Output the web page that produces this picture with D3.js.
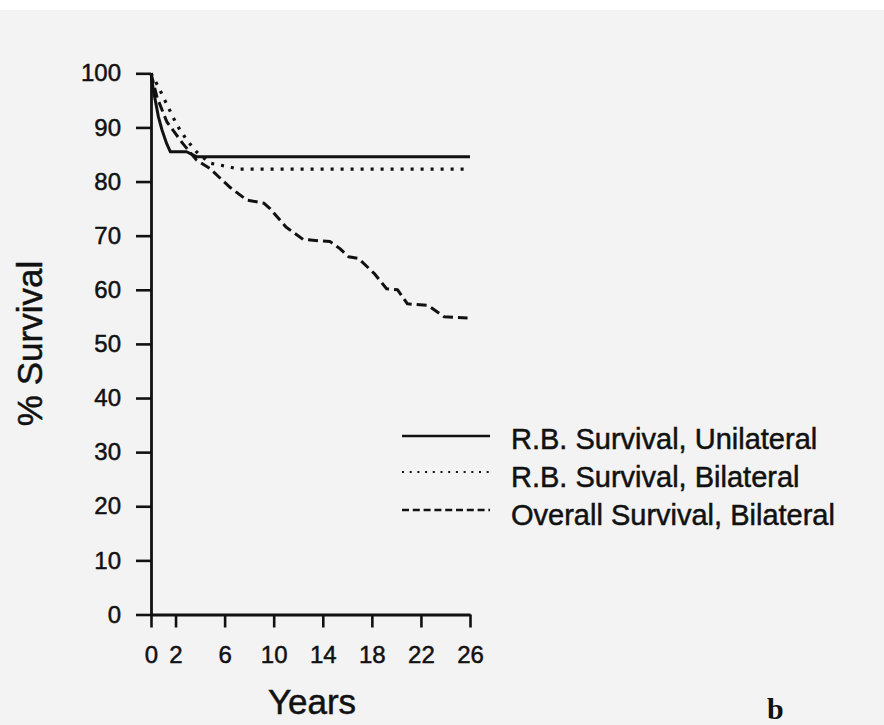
<!DOCTYPE html>
<html>
<head>
<meta charset="utf-8">
<script src="https://cdn.jsdelivr.net/npm/d3@7"></script>
<style>
  html, body { margin: 0; padding: 0; background: #ffffff; }
  svg { display: block; }
</style>
</head>
<body>
<svg id="chart" width="884" height="725"></svg>
<script>
// ---- data ----
const xTicks = [0, 2, 6, 10, 14, 18, 22, 26];
const yTicks = [0, 10, 20, 30, 40, 50, 60, 70, 80, 90, 100];

const uniYears = [0, 0.2, 0.6, 0.9, 1.28, 1.58, 2.9, 3.7, 26];
const uniSurv  = [100, 96.8, 92, 89.5, 87, 85.5, 85.5, 84.6, 84.6];

const biYears = [0, 0.6, 1.28, 2.1, 2.9, 3.7, 4.8, 6.4, 7.1, 26];
const biSurv  = [100, 97.5, 94.3, 90.5, 87.7, 85.5, 83.4, 82.7, 82.3, 82.3];

const allYears = [0, 0.5, 1.3, 2.6, 3.7, 4.8, 6.4, 7.8, 9.2, 9.7, 11.0, 12.4, 14.6, 15.4, 16.1, 16.9, 18.2, 19.2, 20.1, 20.9, 22.6, 23.9, 25.8];
const allSurv  = [100, 95.5, 91, 87, 84, 82.4, 79, 76.6, 76, 75, 71.6, 69.3, 68.9, 67.6, 66.1, 65.8, 63, 60.2, 60, 57.4, 57.1, 55, 54.8];

const seriesNames = ["R.B. Survival, Unilateral", "R.B. Survival, Bilateral", "Overall Survival, Bilateral"];
const xTitle = "Years";
const yTitle = "% Survival";
const panelLabel = "b";

// ---- drawing ----
const svg = d3.select("#chart");
const font = "'Liberation Sans', Arial, Helvetica, sans-serif";
const ink = "#111";

svg.append("rect").attr("x", 0).attr("y", 10).attr("width", 884).attr("height", 715).attr("fill", "#f3f3f3");

const x = d3.scaleLinear().domain([0, 26]).range([151, 470]);
const y = d3.scaleLinear().domain([0, 100]).range([614.5, 73.3]);

const styles = [
  { dash: null, width: 3, legDash: null, legWidth: 2.4 },
  { dash: "3,7", width: 3.2, legDash: "2,5.7", legWidth: 2 },
  { dash: "10,5", width: 3, legDash: "7,3.8", legWidth: 2.4 }
];
const data = [
  uniYears.map((t, i) => [t, uniSurv[i]]),
  biYears.map((t, i) => [t, biSurv[i]]),
  allYears.map((t, i) => [t, allSurv[i]])
];

const line = d3.line().x(d => x(d[0])).y(d => y(d[1]));

// axes
const gx = svg.append("g").attr("transform", `translate(0,${y(0)})`)
  .call(d3.axisBottom(x).tickValues(xTicks).tickSize(13).tickSizeOuter(0).tickPadding(18));
const gy = svg.append("g").attr("transform", `translate(${x(0)},0)`)
  .call(d3.axisLeft(y).tickValues(yTicks).tickSize(15).tickSizeOuter(0).tickPadding(15));
[gx, gy].forEach(g => {
  g.select(".domain").attr("stroke", ink).attr("stroke-width", 2.8);
  g.selectAll(".tick line").attr("stroke", ink).attr("stroke-width", 2.6);
  g.selectAll(".tick text").attr("fill", ink)
    .attr("stroke", ink).attr("stroke-width", 0.5)
    .style("font-family", font).style("font-size", "24px");
});

// series
data.forEach((d, i) => {
  svg.append("path").datum(d)
    .attr("fill", "none")
    .attr("stroke", ink)
    .attr("stroke-width", styles[i].width)
    .attr("stroke-dasharray", styles[i].dash)
    .attr("stroke-linejoin", "round")
    .attr("d", line);
});

// legend
const legLineY = [436, 472, 510];
const legTextY = [449, 487, 525];
seriesNames.forEach((name, i) => {
  svg.append("line")
    .attr("x1", 402).attr("x2", 490)
    .attr("y1", legLineY[i]).attr("y2", legLineY[i])
    .attr("stroke", ink)
    .attr("stroke-width", styles[i].legWidth)
    .attr("stroke-dasharray", styles[i].legDash);
  svg.append("text")
    .attr("x", 511).attr("y", legTextY[i])
    .attr("fill", ink).attr("stroke", ink).attr("stroke-width", 0.5)
    .style("font-family", font).style("font-size", "29px")
    .text(name);
});

// titles
svg.append("text")
  .attr("x", 312).attr("y", 714)
  .attr("text-anchor", "middle")
  .attr("fill", ink).attr("stroke", ink).attr("stroke-width", 0.5)
  .style("font-family", font).style("font-size", "35px")
  .text(xTitle);

svg.append("text")
  .attr("transform", "translate(41.5,343.5) rotate(-90)")
  .attr("text-anchor", "middle")
  .attr("fill", ink).attr("stroke", ink).attr("stroke-width", 0.5)
  .style("font-family", font).style("font-size", "35px")
  .text(yTitle);

svg.append("text")
  .attr("x", 767).attr("y", 719)
  .attr("fill", ink)
  .style("font-family", "'Liberation Serif', 'Times New Roman', serif")
  .style("font-size", "30px").style("font-weight", "bold")
  .text(panelLabel);
</script>
</body>
</html>
